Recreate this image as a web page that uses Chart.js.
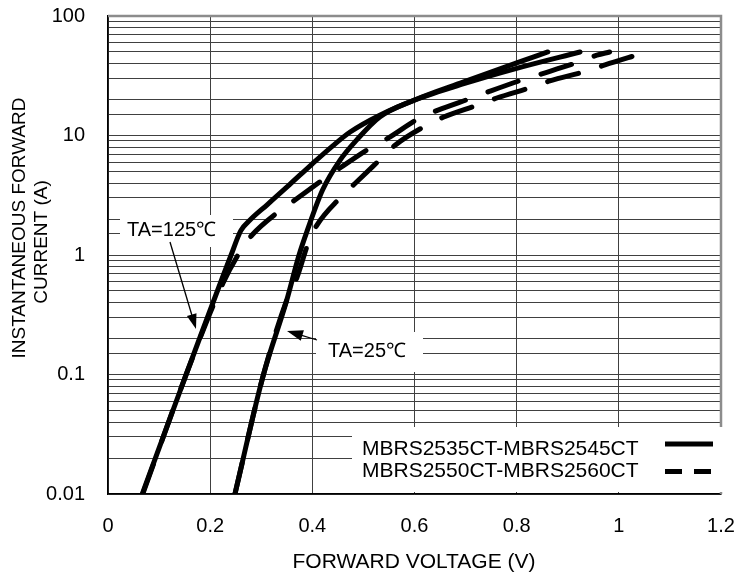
<!DOCTYPE html>
<html>
<head>
<meta charset="utf-8">
<script src="https://cdn.jsdelivr.net/npm/chart.js@4.4.1/dist/chart.umd.min.js"></script>
<style>
  html, body { margin: 0; padding: 0; background: #fff; }
  canvas { display: block; }
</style>
</head>
<body>
<canvas id="vfChart" width="740" height="578"></canvas>
<script>
/* ── Data ────────────────────────────────────────────────────── */
// MBRS2535CT-MBRS2545CT (solid)
const solid125V = [0.067, 0.153, 0.241, 0.260, 0.278, 0.311, 0.356, 0.400, 0.440, 0.474, 0.532, 0.600, 0.695, 0.800, 0.924];
const solid125I = [0.01, 0.1, 1.0, 1.6, 1.96, 2.62, 3.9, 5.8, 8.2, 10.7, 14.8, 19.8, 27, 36.5, 50];
const solid25V  = [0.2485, 0.303, 0.350, 0.374, 0.390, 0.420, 0.454, 0.487, 0.532, 0.600, 0.695, 0.800, 0.861];
const solid25I  = [0.01, 0.095, 0.42, 1.0, 1.6, 3.5, 6.2, 9.2, 14.3, 19.8, 28, 40.5, 50];

// MBRS2550CT-MBRS2560CT (dashed)
const dash125V = [0.068, 0.153, 0.225, 0.258, 0.282, 0.333, 0.366, 0.425, 0.454, 0.513, 0.548, 0.610, 0.646, 0.712, 0.748, 0.816, 0.851, 0.920, 0.957, 0.982];
const dash125I = [0.01, 0.1, 0.58, 1.06, 1.47, 2.29, 2.89, 4.4, 5.35, 7.86, 9.5, 14, 16.3, 20.6, 23.5, 29.7, 33, 41, 47, 50];
const dash25V  = [0.2485, 0.303, 0.350, 0.370, 0.392, 0.409, 0.454, 0.483, 0.536, 0.562, 0.624, 0.656, 0.724, 0.761, 0.830, 0.865, 0.937, 0.973, 1.041];
const dash25I  = [0.01, 0.095, 0.42, 0.65, 1.26, 1.78, 3.0, 3.95, 6.5, 8.3, 12.2, 14.2, 18.0, 20.6, 25.4, 28.6, 34.6, 39, 48];

const xTickLabels = ['0', '0.2', '0.4', '0.6', '0.8', '1', '1.2'];
const yTickLabels = ['0.01', '0.1', '1', '10', '100'];

const seriesNames = ['MBRS2535CT-MBRS2545CT', 'MBRS2550CT-MBRS2560CT'];
const tempLabels  = ['TA=125\u2103', 'TA=25\u2103'];

/* ── Helpers ─────────────────────────────────────────────────── */
const FONT = '"Liberation Sans", Arial, sans-serif';

function pts(xs, ys) {
  return xs.map((x, i) => ({ x, y: ys[i] }));
}

function curve(label, xs, ys, dashed) {
  return {
    label,
    data: pts(xs, ys),
    borderColor: '#000',
    borderWidth: 5,
    borderDash: dashed ? [32, 24] : [],
    borderCapStyle: 'round',
    borderJoinStyle: 'round',
    pointRadius: 0,
    cubicInterpolationMode: 'monotone',
    fill: false,
  };
}

function arrow(ctx, x1, y1, x2, y2, headLen, headW) {
  const a = Math.atan2(y2 - y1, x2 - x1);
  ctx.beginPath();
  ctx.moveTo(x1, y1);
  ctx.lineTo(x2 - Math.cos(a) * headLen * 0.8, y2 - Math.sin(a) * headLen * 0.8);
  ctx.stroke();
  ctx.beginPath();
  ctx.moveTo(x2, y2);
  ctx.lineTo(x2 - Math.cos(a) * headLen + Math.sin(a) * headW / 2, y2 - Math.sin(a) * headLen - Math.cos(a) * headW / 2);
  ctx.lineTo(x2 - Math.cos(a) * headLen - Math.sin(a) * headW / 2, y2 - Math.sin(a) * headLen + Math.cos(a) * headW / 2);
  ctx.closePath();
  ctx.fill();
}

/* ── Decorations: frame, white boxes, legend, titles ─────────── */
const decorPlugin = {
  id: 'decor',
  beforeDatasetsDraw(chart) {
    const { ctx, chartArea: a } = chart;
    ctx.save();
    // grey top / right frame
    ctx.strokeStyle = '#8c8c8c';
    ctx.lineWidth = 2.5;
    ctx.beginPath();
    ctx.moveTo(a.left, a.top);
    ctx.lineTo(a.right, a.top);
    ctx.lineTo(a.right, a.bottom);
    ctx.stroke();

    // white boxes behind labels and legend
    ctx.fillStyle = '#fff';
    ctx.fillRect(120, 215, 113, 32);
    ctx.fillRect(316, 332, 107, 40);
    ctx.fillRect(352, 427, 372, 65);

    // legend
    ctx.fillStyle = '#000';
    ctx.font = '21px ' + FONT;
    ctx.textAlign = 'left';
    ctx.textBaseline = 'alphabetic';
    ctx.fillText(seriesNames[0], 362, 455);
    ctx.fillText(seriesNames[1], 362, 477);
    ctx.strokeStyle = '#000';
    ctx.lineWidth = 5;
    ctx.lineCap = 'butt';
    ctx.beginPath();
    ctx.moveTo(665, 444);
    ctx.lineTo(713, 444);
    ctx.stroke();
    ctx.setLineDash([17, 12]);
    ctx.beginPath();
    ctx.moveTo(665, 471.5);
    ctx.lineTo(717, 471.5);
    ctx.stroke();
    ctx.restore();
  },
  afterDatasetsDraw(chart) {
    const { ctx } = chart;
    ctx.save();
    ctx.fillStyle = '#000';
    ctx.strokeStyle = '#000';
    ctx.font = '20px ' + FONT;
    ctx.textAlign = 'left';
    ctx.textBaseline = 'alphabetic';
    ctx.fillText(tempLabels[0], 127, 236);
    ctx.fillText(tempLabels[1], 328, 357);

    ctx.lineWidth = 1.3;
    arrow(ctx, 170, 242, 196, 329, 15, 10);
    arrow(ctx, 317, 340, 287, 331, 16, 11);

    // axis titles
    ctx.font = '21px ' + FONT;
    ctx.textAlign = 'center';
    ctx.fillText('FORWARD VOLTAGE (V)', 414, 568);

    ctx.font = '19px ' + FONT;
    ctx.textBaseline = 'middle';
    ctx.translate(20, 228);
    ctx.rotate(-Math.PI / 2);
    ctx.fillText('INSTANTANEOUS FORWARD', 0, 0);
    ctx.rotate(Math.PI / 2);
    ctx.translate(22, 14);
    ctx.rotate(-Math.PI / 2);
    ctx.fillText('CURRENT (A)', 0, 0);
    ctx.restore();
  },
};

/* ── Chart ───────────────────────────────────────────────────── */
const ctx = document.getElementById('vfChart').getContext('2d');
new Chart(ctx, {
  type: 'line',
  data: {
    datasets: [
      curve(seriesNames[0] + ' 125', solid125V, solid125I, false),
      curve(seriesNames[0] + ' 25', solid25V, solid25I, false),
      curve(seriesNames[1] + ' 125', dash125V, dash125I, true),
      curve(seriesNames[1] + ' 25', dash25V, dash25I, true),
    ],
  },
  options: {
    responsive: false,
    devicePixelRatio: 1,
    animation: false,
    layout: { padding: { top: 16, right: 19, left: 0, bottom: 0 } },
    plugins: {
      legend: { display: false },
      tooltip: { enabled: false },
    },
    scales: {
      x: {
        type: 'linear',
        min: 0,
        max: 1.2,
        afterFit: s => { s.height = 84; s.paddingLeft = 0; s.paddingRight = 0; },
        grid: { color: '#404040', lineWidth: 1, drawTicks: false },
        border: { color: '#000', width: 1.5 },
        ticks: {
          stepSize: 0.2,
          padding: 20,
          color: '#000',
          font: { family: FONT, size: 20 },
          maxRotation: 0,
          autoSkip: false,
          callback: (v, i) => xTickLabels[i],
        },
      },
      y: {
        type: 'logarithmic',
        min: 0.01,
        max: 100,
        afterFit: s => { s.width = 108; s.paddingTop = 0; s.paddingBottom = 0; },
        grid: { color: '#404040', lineWidth: 1, drawTicks: false },
        border: { color: '#000', width: 1.5 },
        ticks: {
          padding: 23,
          color: '#000',
          font: { family: FONT, size: 20 },
          autoSkip: false,
          callback: v => {
            const e = Math.log10(v);
            const r = Math.round(e);
            return Math.abs(e - r) < 1e-6 ? yTickLabels[r + 2] : '';
          },
        },
      },
    },
  },
  plugins: [decorPlugin],
});
</script>
</body>
</html>
